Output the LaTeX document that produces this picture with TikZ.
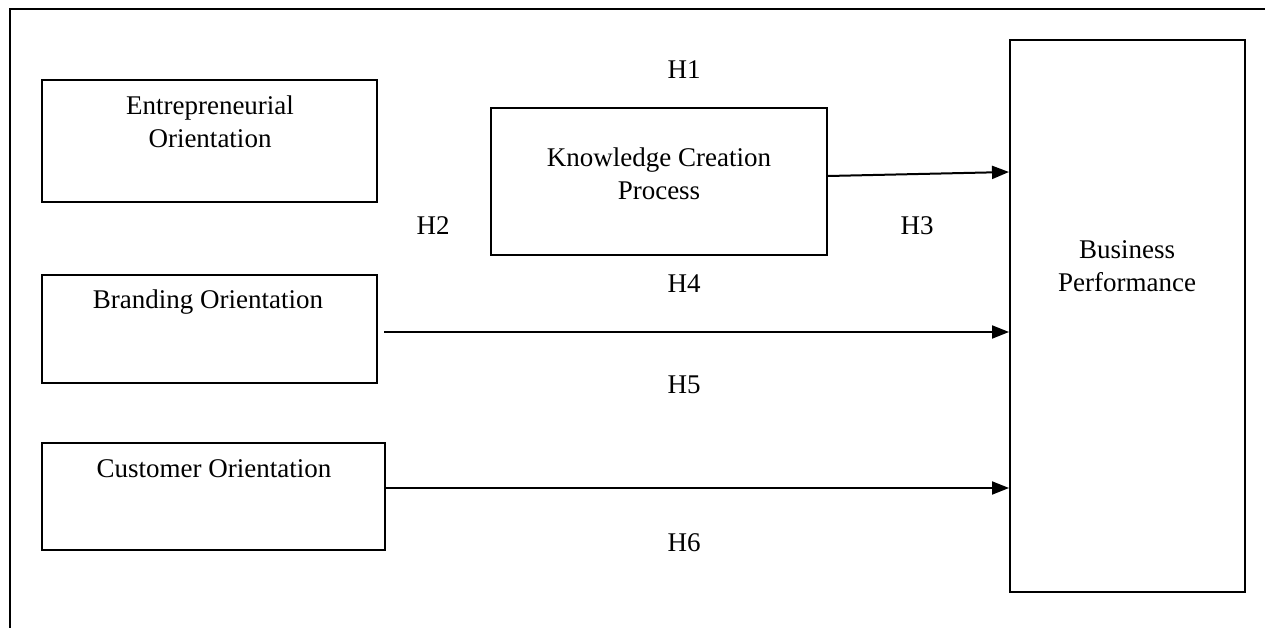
\documentclass[tikz,border=0pt]{standalone}
\usepackage{fontspec}
\setmainfont{Liberation Serif}
\usetikzlibrary{arrows.meta}
\begin{document}
\begin{tikzpicture}[x=1pt,y=-1pt,
  box/.style={draw=black,line width=2pt,minimum width=#1,inner sep=0pt},
  lbl/.style={font=\fontsize{27}{33}\selectfont,align=center,inner sep=0pt},
  arr/.style={line width=2pt,-{Triangle[length=17pt,width=13pt]}}]
\useasboundingbox (0,0) rectangle (1265,628);
\draw[line width=2pt] (10,628) -- (10,9) -- (1265,9);
% boxes
\node[box=335pt,minimum height=122pt] (eo) at (209.5,141) {};
\node[box=336pt,minimum height=147pt] (kcp) at (659,181.5) {};
\node[box=335pt,minimum height=108pt] (bo) at (209.5,329) {};
\node[box=343pt,minimum height=107pt] (co) at (213.5,496.5) {};
\node[box=235pt,minimum height=552pt] (bp) at (1127.5,316) {};
% box texts
\node[lbl] (teo) at (210,121.5) {Entrepreneurial\\Orientation};
\node[lbl] (tkcp) at (659,173.5) {Knowledge Creation\\Process};
\node[lbl] (tbo) at (208,302) {Branding Orientation};
\node[lbl] (tco) at (214,469) {Customer Orientation};
\node[lbl] (tbp) at (1127,266.5) {Business\\Performance};
% hypothesis labels
\node[lbl] (h1) at (684,70) {H1};
\node[lbl] (h2) at (433,226) {H2};
\node[lbl] (h3) at (917,226) {H3};
\node[lbl] (h4) at (684,284) {H4};
\node[lbl] (h5) at (684,385) {H5};
\node[lbl] (h6) at (684,543) {H6};
% arrows
\coordinate (a1s) at ([yshift=5.5pt]kcp.east);
\coordinate (a1e) at ([yshift=9.5pt]bp.west |- kcp.east);
\draw[arr] (a1s) -- (a1e);
\coordinate (a2s) at ([xshift=6pt,yshift=-3pt]bo.east);
\draw[arr] (a2s) -- (bp.west |- a2s);
\coordinate (a3s) at ([yshift=8.5pt]co.east);
\draw[arr] (a3s) -- (bp.west |- a3s);
\end{tikzpicture}
\end{document}
